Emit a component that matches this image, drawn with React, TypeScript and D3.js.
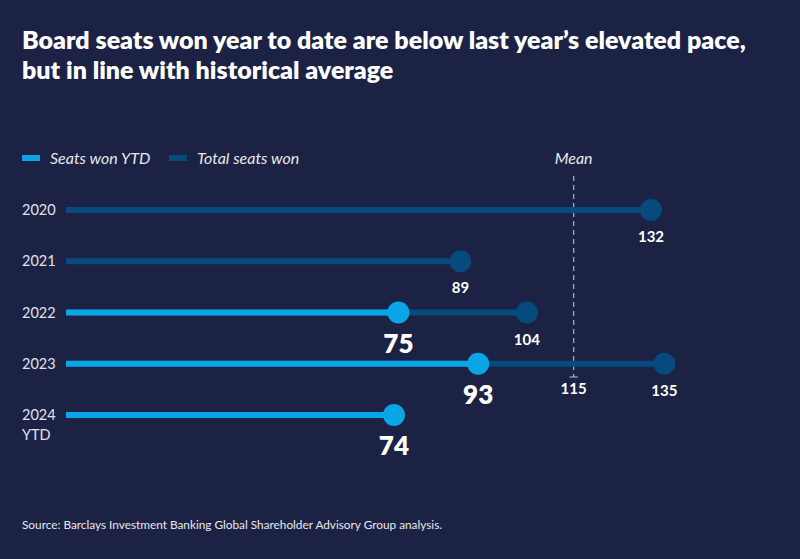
import React from "react";
import * as d3 from "d3";

const categories = ["2020", "2021", "2022", "2023", "2024\nYTD"];
const totalSeats: (number | null)[] = [132, 89, 104, 135, null];
const ytdSeats: (number | null)[] = [null, null, 75, 93, 74];
const meanValue = 115;
const titleLines = [
  "Board seats won year to date are below last year\u2019s elevated pace,",
  "but in line with historical average",
];
const sourceText = "Source: Barclays Investment Banking Global Shareholder Advisory Group analysis.";

const W = 800;
const H = 559;
const BG = "#1c2244";
const DARK = "#064a7e";
const LIGHT = "#0aa5e6";
const FONT = "Lato, 'Open Sans', sans-serif";

export default function App() {
  const x = d3.scaleLinear().domain([0, 132]).range([66, 651]);
  const y = d3
    .scalePoint<string>()
    .domain(categories)
    .range([210, 415]);

  return (
    <svg width={W} height={H} style={{ position: "absolute", left: 0, top: 0, display: "block" }}>
      <rect width={W} height={H} fill={BG} />
      {titleLines.map((t, i) => (
        <text key={i} x={22} y={49 + i * 30} fill="#fff" fontFamily={FONT} fontWeight={800} fontSize={25}>
          {t}
        </text>
      ))}
      {/* legend */}
      <rect x={22} y={155} width={18} height={6} fill={LIGHT} />
      <text x={50} y={164} fill="#e8e8ee" fontFamily={FONT} fontStyle="italic" fontSize={16}>
        Seats won YTD
      </text>
      <rect x={169} y={155} width={18} height={6} fill={DARK} />
      <text x={197} y={164} fill="#e8e8ee" fontFamily={FONT} fontStyle="italic" fontSize={16}>
        Total seats won
      </text>
      {/* mean */}
      <text x={x(meanValue) - 2} y={164} textAnchor="middle" fill="#e8e8ee" fontFamily={FONT} fontStyle="italic" fontSize={16}>
        Mean
      </text>
      <line x1={x(meanValue) - 2} x2={x(meanValue) - 2} y1={176} y2={377} stroke="#aab0c4" strokeWidth={1.2} strokeDasharray="5,4" />
      <line x1={x(meanValue) - 6} x2={x(meanValue) + 2} y1={377} y2={377} stroke="#aab0c4" strokeWidth={1.2} />
      <text x={x(meanValue) - 2} y={394} textAnchor="middle" fill="#fff" fontFamily={FONT} fontWeight={700} fontSize={15}>
        {meanValue}
      </text>
      {categories.map((c, i) => {
        const cy = y(c)!;
        const lines = c.split("\n");
        const tot = totalSeats[i];
        const ytd = ytdSeats[i];
        return (
          <g key={c}>
            {lines.map((l, j) => (
              <text key={j} x={22} y={cy + 5 + j * 20} fill="#e0e2ea" fontFamily={FONT} fontSize={14.5}>
                {l}
              </text>
            ))}
            {tot != null && (
              <g>
                <line x1={x(0)} x2={x(tot)} y1={cy} y2={cy} stroke={DARK} strokeWidth={6} />
                <circle cx={x(tot)} cy={cy} r={11} fill={DARK} />
                <text x={x(tot)} y={cy + 32} textAnchor="middle" fill="#fff" fontFamily={FONT} fontWeight={700} fontSize={15}>
                  {tot}
                </text>
              </g>
            )}
            {ytd != null && (
              <g>
                <line x1={x(0)} x2={x(ytd)} y1={cy} y2={cy} stroke={LIGHT} strokeWidth={6} />
                <circle cx={x(ytd)} cy={cy} r={11} fill={LIGHT} />
                <text x={x(ytd)} y={cy + 40} textAnchor="middle" fill="#fff" fontFamily={FONT} fontWeight={800} fontSize={26}>
                  {ytd}
                </text>
              </g>
            )}
          </g>
        );
      })}
      <text x={22} y={529} fill="#e8e8ee" fontFamily={FONT} fontSize={11.8}>
        {sourceText}
      </text>
    </svg>
  );
}
